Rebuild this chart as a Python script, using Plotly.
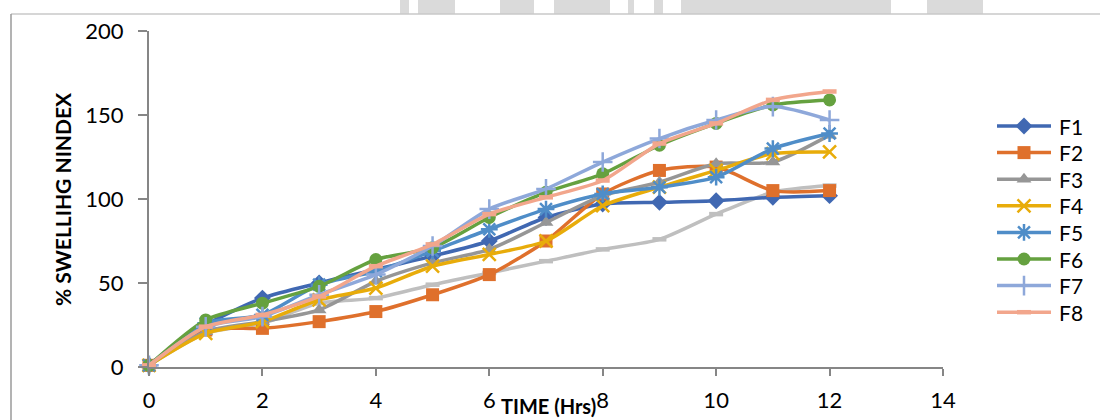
import plotly.graph_objects as go

time_hrs = [0, 1, 2, 3, 4, 5, 6, 7, 8, 9, 10, 11, 12]

F1 = [1, 25, 41, 50, 58, 66, 75, 89, 97, 98, 99, 101, 102]
F2 = [1, 22, 23, 27, 33, 43, 55, 75, 103, 117, 119, 105, 105]
F3 = [1, 21, 27, 34, 51, 62, 70, 86, 102, 110, 121, 122, 138]
F4 = [1, 20, 27, 40, 47, 60, 67, 75, 96, 107, 117, 127, 128]
F5 = [1, 26, 31, 49, 57, 69, 82, 94, 103, 107, 113, 130, 139]
F6 = [1, 28, 38, 48, 64, 71, 89, 104, 115, 132, 145, 156, 159]
F7 = [1, 24, 30, 43, 55, 72, 94, 106, 122, 136, 147, 155, 147]
F8 = [1, 24, 31, 42, 60, 73, 91, 101, 111, 133, 145, 159, 164]
F9 = [1, 20, 26, 38, 41, 49, 56, 63, 70, 76, 91, 104, 108]

x_ticks = [0, 2, 4, 6, 8, 10, 12, 14]
y_ticks = [0, 50, 100, 150, 200]

series = [
    ("F1", F1, "#4068B2", "diamond", 13, 0, True),
    ("F2", F2, "#DF702C", "square", 13, 0, True),
    ("F3", F3, "#969696", "triangle-up", 13, 0, True),
    ("F4", F4, "#E8AC0A", "x-thin", 13, 2.5, True),
    ("F5", F5, "#4F8DC8", "asterisk", 14, 2.5, True),
    ("F6", F6, "#65A13F", "circle", 13, 0, True),
    ("F7", F7, "#8EA8DA", "cross-thin", 14, 2.5, True),
    ("F8", F8, "#F2A68C", "line-ew", 10, 4.5, True),
    ("F9", F9, "#BFBFBF", "line-ew", 10, 4.5, False),
]

W, H = 1100, 420
L, R, T, B = 149, 943, 31, 367

fig = go.Figure()

def mk_for(col, sym, size, lw):
    mk = dict(symbol=sym, size=size, color=col)
    if lw:
        mk["line"] = dict(color=col, width=lw)
    return mk

order = [8, 0, 1, 2, 3, 4, 5, 6, 7]
for i in order:
    name, vals, col, sym, size, lw, show = series[i]
    fig.add_trace(go.Scatter(
        x=time_hrs, y=vals, name=name, mode="lines+markers",
        line=dict(color=col, width=3.5, shape="spline", smoothing=0.7),
        marker=mk_for(col, sym, size, lw), cliponaxis=False,
        showlegend=False, xaxis="x", yaxis="y",
    ))

# Custom legend (pixel overlay axes x2/y2)
leg_y0, leg_dy = 126, 26.6
leg_x0, leg_x1 = 997, 1051
annotations = []
k = 0
for name, vals, col, sym, size, lw, show in series:
    if not show:
        continue
    yc = leg_y0 + k * leg_dy
    fig.add_trace(go.Scatter(
        x=[leg_x0, leg_x1], y=[yc, yc], mode="lines",
        line=dict(color=col, width=3.5), showlegend=False,
        hoverinfo="skip", xaxis="x2", yaxis="y2",
    ))
    fig.add_trace(go.Scatter(
        x=[(leg_x0 + leg_x1) / 2], y=[yc], mode="markers",
        marker=mk_for(col, sym, size, lw), showlegend=False,
        hoverinfo="skip", xaxis="x2", yaxis="y2", cliponaxis=False,
    ))
    annotations.append(dict(
        text=name, xref="paper", yref="paper",
        x=1057 / W, y=1 - yc / H, xanchor="left", yanchor="middle",
        showarrow=False, font=dict(size=21, color="#000000"),
    ))
    k += 1

annotations += [
    dict(text="<b>TIME (Hrs)</b>", xref="paper", yref="paper",
         x=548 / W, y=1 - 406 / H, xanchor="center", yanchor="middle",
         showarrow=False, font=dict(size=20)),
    dict(text="<b>% SWELLIHG NINDEX</b>", xref="paper", yref="paper",
         x=62 / W, y=1 - 199 / H, xanchor="center", yanchor="middle",
         textangle=-90, showarrow=False, font=dict(size=21)),
]

# faded background strip at the top
wm_segments = [(400, 409), (418, 455), (500, 534), (554, 610), (628, 634),
               (654, 663), (681, 891), (927, 983)]
shapes = []
for a, b in wm_segments:
    shapes.append(dict(type="rect", xref="paper", yref="paper",
                       x0=a / W, x1=b / W, y0=1 - 14 / H, y1=1,
                       fillcolor="#DADADA", line=dict(width=0), layer="below"))
shapes += [
    dict(type="line", xref="paper", yref="paper",
         x0=11 / W, x1=1, y0=1 - 14 / H, y1=1 - 14 / H,
         line=dict(color="#C8C8C8", width=1.5)),
    dict(type="line", xref="paper", yref="paper",
         x0=11 / W, x1=11 / W, y0=1 - 14 / H, y1=0,
         line=dict(color="#9A9A9A", width=1.5)),
]

fig.update_layout(
    template="none",
    width=W, height=H,
    margin=dict(l=0, r=0, t=0, b=0, pad=0, autoexpand=False),
    paper_bgcolor="white", plot_bgcolor="rgba(0,0,0,0)",
    font=dict(family="Lato, Calibri, sans-serif", size=22, color="#000000"),
    showlegend=False,
    xaxis=dict(
        domain=[L / W, R / W], anchor="y", automargin=False,
        range=[0, 14], tickvals=x_ticks, showgrid=False, zeroline=False,
        showline=True, linecolor="#868686", linewidth=2,
        ticks="outside", ticklen=7, tickwidth=2, tickcolor="#868686",
        tickfont=dict(size=22), ticklabelstandoff=6, fixedrange=True,
    ),
    yaxis=dict(
        domain=[1 - B / H, 1 - T / H], anchor="x", automargin=False,
        range=[0, 200], tickvals=y_ticks, showgrid=False, zeroline=False,
        showline=True, linecolor="#868686", linewidth=2,
        ticks="outside", ticklen=9, tickwidth=2, tickcolor="#868686",
        tickfont=dict(size=22), ticklabelstandoff=10, fixedrange=True,
    ),
    xaxis2=dict(domain=[0, 1], anchor="y2", range=[0, W], visible=False,
                fixedrange=True, automargin=False),
    yaxis2=dict(domain=[0, 1], anchor="x2", range=[H, 0], visible=False,
                fixedrange=True, automargin=False),
    annotations=annotations,
    shapes=shapes,
)

fig.write_html("out.html")
